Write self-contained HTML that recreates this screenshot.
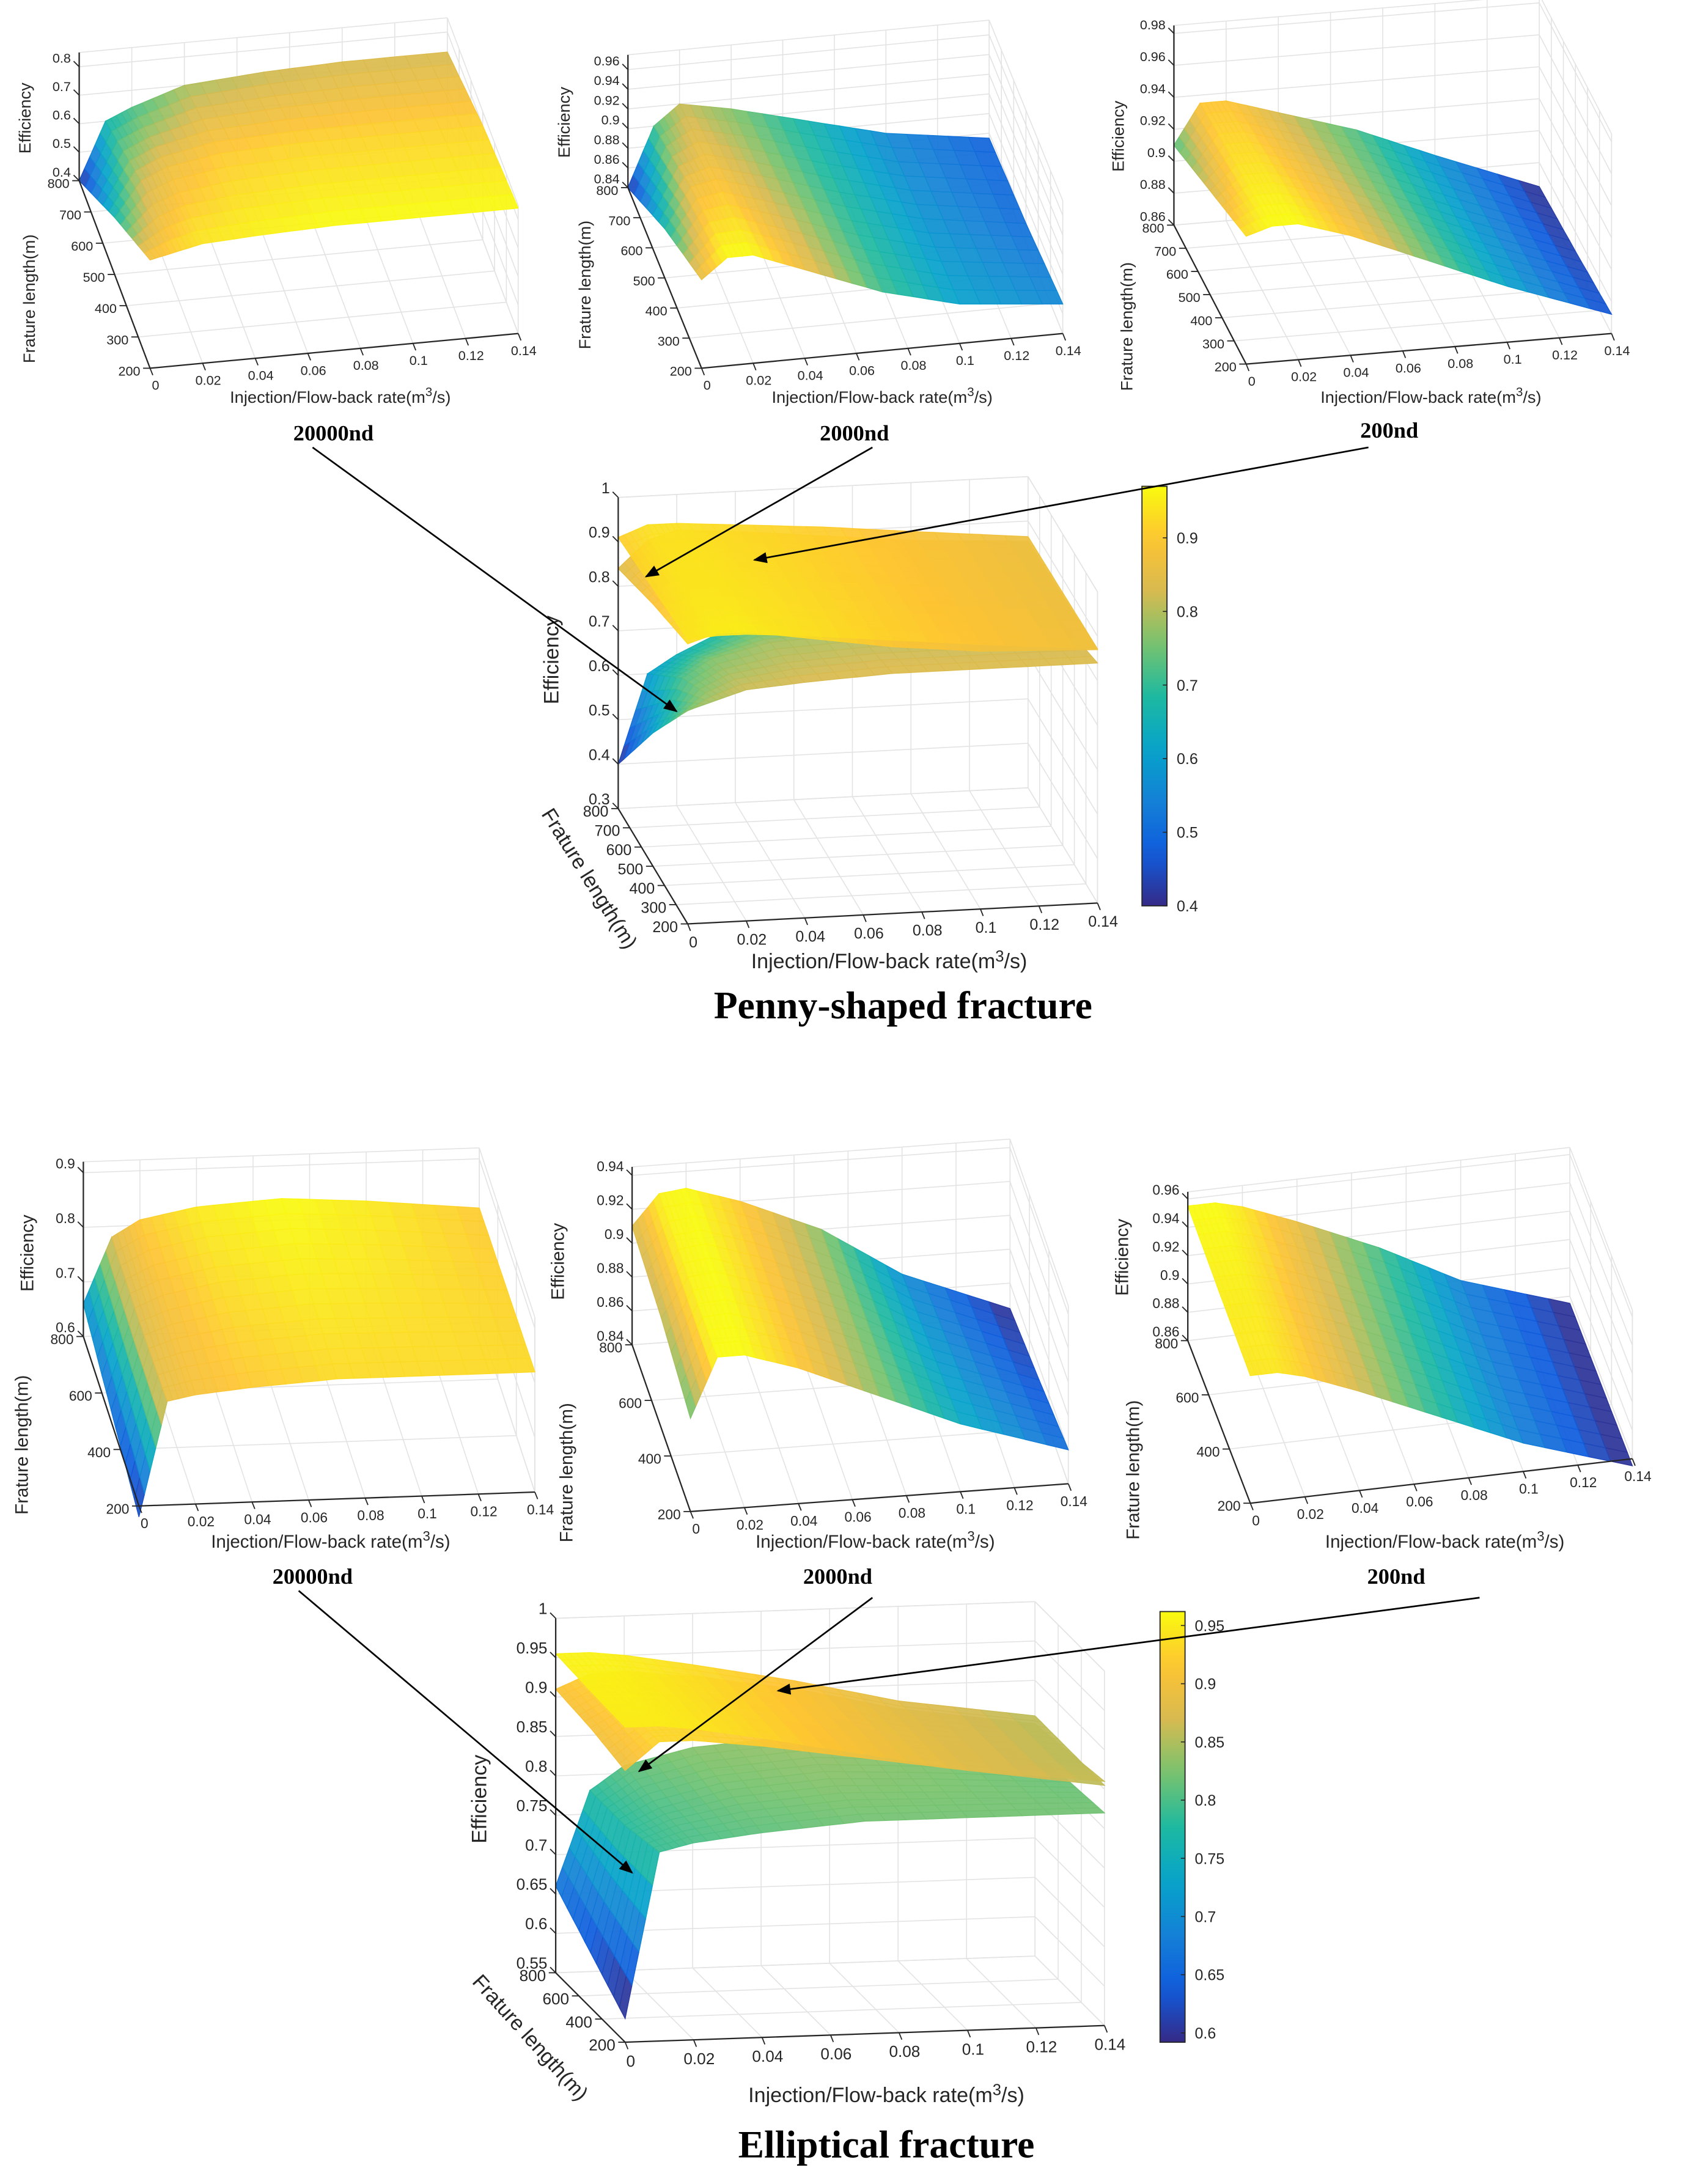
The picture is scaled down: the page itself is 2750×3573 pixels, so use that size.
<!DOCTYPE html>
<html><head><meta charset="utf-8"><style>
html,body{margin:0;padding:0;background:#fff;}
svg{display:block;}
text{font-family:"Liberation Sans",sans-serif;fill:#262626;}
.cap{font-family:"Liberation Serif",serif;font-weight:bold;fill:#000;}
</style></head><body>
<svg id="fig" xmlns="http://www.w3.org/2000/svg" width="2750" height="3573" viewBox="0 0 1210 1572">
<defs>
<marker id="ah" markerWidth="10" markerHeight="8" refX="9" refY="4" orient="auto" markerUnits="userSpaceOnUse"><path d="M0,0 L10,4 L0,8 z" fill="#000"/></marker>
</defs>
<g id="plots"></g>
<text class="cap" x="240" y="317" font-size="16" text-anchor="middle">20000nd</text>
<text class="cap" x="615" y="317" font-size="16" text-anchor="middle">2000nd</text>
<text class="cap" x="1000" y="315" font-size="16" text-anchor="middle">200nd</text>
<text class="cap" x="650" y="733" font-size="28" text-anchor="middle">Penny-shaped fracture</text>
<text class="cap" x="225" y="1140" font-size="16" text-anchor="middle">20000nd</text>
<text class="cap" x="603" y="1140" font-size="16" text-anchor="middle">2000nd</text>
<text class="cap" x="1005" y="1140" font-size="16" text-anchor="middle">200nd</text>
<text class="cap" x="638" y="1553" font-size="28" text-anchor="middle">Elliptical fracture</text>
<g stroke="#000" stroke-width="1.2" fill="none">
<line x1="225" y1="322" x2="487" y2="512" marker-end="url(#ah)"/>
<line x1="628" y1="322" x2="465" y2="415" marker-end="url(#ah)"/>
<line x1="985" y1="322" x2="543" y2="403" marker-end="url(#ah)"/>
<line x1="215" y1="1145" x2="455" y2="1348" marker-end="url(#ah)"/>
<line x1="628" y1="1150" x2="460" y2="1275" marker-end="url(#ah)"/>
<line x1="1065" y1="1150" x2="560" y2="1217" marker-end="url(#ah)"/>
</g>
</svg>
<script>
// ---- data ----
const xs=[0,0.01,0.02,0.04,0.07,0.1,0.14];
const Ls=[200,500,800];
const penny20000=[[0.78,0.80,0.82,0.83,0.84,0.84,0.84],[0.60,0.72,0.76,0.79,0.80,0.80,0.80],[0.40,0.60,0.64,0.70,0.72,0.73,0.73]];
const penny2000=[[0.93,0.95,0.95,0.93,0.90,0.88,0.87],[0.89,0.93,0.935,0.92,0.895,0.875,0.86],[0.84,0.90,0.92,0.91,0.89,0.87,0.855]];
const penny200=[[0.94,0.945,0.945,0.935,0.915,0.895,0.872],[0.925,0.94,0.94,0.93,0.912,0.892,0.868],[0.91,0.935,0.935,0.925,0.91,0.89,0.865]];
const ellip20000=[[0.58,0.79,0.80,0.81,0.82,0.82,0.82],[0.62,0.78,0.80,0.82,0.83,0.825,0.815],[0.66,0.78,0.81,0.83,0.84,0.83,0.81]];
const ellip2000=[[0.895,0.93,0.93,0.92,0.90,0.88,0.86],[0.905,0.928,0.93,0.92,0.90,0.875,0.852],[0.91,0.928,0.93,0.92,0.90,0.87,0.845]];
const ellip200=[[0.95,0.95,0.945,0.93,0.905,0.88,0.855],[0.952,0.952,0.947,0.932,0.907,0.88,0.855],[0.955,0.955,0.95,0.935,0.91,0.88,0.855]];
const xTicks=[0,0.02,0.04,0.06,0.08,0.1,0.12,0.14];
const xTickLabels=['0','0.02','0.04','0.06','0.08','0.1','0.12','0.14'];
const LTicks100=[200,300,400,500,600,700,800];
const LTicks200=[200,400,600,800];
const cbTicksPenny=[0.4,0.5,0.6,0.7,0.8,0.9];
const cbTicksEllip=[0.6,0.65,0.7,0.75,0.8,0.85,0.9,0.95];

const NS='http://www.w3.org/2000/svg';
const root=document.getElementById('plots');
function mk(tag,attrs,parent){const e=document.createElementNS(NS,tag);for(const k in attrs)e.setAttribute(k,attrs[k]);(parent||root).appendChild(e);return e;}
const stops=[[0,[53,42,135]],[0.125,[15,92,221]],[0.25,[20,129,214]],[0.375,[6,164,202]],[0.5,[30,185,160]],[0.625,[120,195,110]],[0.75,[215,186,80]],[0.875,[254,196,50]],[1,[249,251,14]]];
function parula(t){t=Math.max(0,Math.min(1,t));for(let i=1;i<stops.length;i++){if(t<=stops[i][0]){const a=stops[i-1],b=stops[i];const f=(t-a[0])/(b[0]-a[0]);const c=a[1].map((v,j)=>Math.round(v+(b[1][j]-v)*f));return 'rgb('+c.join(',')+')';}}return 'rgb(249,251,14)';}
function fmt(v){return String(+v.toFixed(2));}

function makeAxis(cfg){
  const g=mk('g',{});
  
  
  const P=(x,L,z)=>[cfg.O[0]+cfg.vx[0]*x/0.14+cfg.vL[0]*(L-200)/600, cfg.O[1]+cfg.vx[1]*x/0.14+cfg.vL[1]*(L-200)/600-cfg.kz*(z-cfg.z0)];
  const line=(a,b,col,w,nm)=>{const l=mk('line',{x1:a[0],y1:a[1],x2:b[0],y2:b[1],stroke:col,'stroke-width':w},g);return l;};
  const gc='#e3e3e3',z0=cfg.z0,z1=cfg.z1;
  xTicks.forEach(x=>{line(P(x,200,z0),P(x,800,z0),gc,0.7,'floor-grid-x');line(P(x,800,z0),P(x,800,z1),gc,0.7,'back-grid-x');});
  cfg.Lt.forEach(L=>{line(P(0,L,z0),P(0.14,L,z0),gc,0.7,'floor-grid-l');line(P(0.14,L,z0),P(0.14,L,z1),gc,0.7,'side-grid-l');});
  cfg.zt.forEach(z=>{line(P(0,800,z),P(0.14,800,z),gc,0.7,'back-grid-z');line(P(0.14,800,z),P(0.14,200,z),gc,0.7,'side-grid-z');});
  line(P(0,800,z1),P(0.14,800,z1),gc,0.7,'box-top');line(P(0.14,800,z1),P(0.14,200,z1),gc,0.7,'box-top');line(P(0.14,200,z0),P(0.14,200,z1),gc,0.7,'box-edge');
  const quads=[];
  const zr=z1-z0;
  cfg.series.forEach(s=>{
    const d=s.data;const lo=cfg.clim[0],hi=cfg.clim[1];
    for(let j=0;j<Ls.length-1;j++)for(let i=0;i<xs.length-1;i++){
      const NX=5,NL=6;
      for(let a=0;a<NX;a++)for(let b=0;b<NL;b++){
        const pts=[];let zs=0;
        [[a,b],[a+1,b],[a+1,b+1],[a,b+1]].forEach(([u,v])=>{
          const fu=u/NX,fv=v/NL;
          const z=(1-fu)*(1-fv)*d[j][i]+fu*(1-fv)*d[j][i+1]+(1-fu)*fv*d[j+1][i]+fu*fv*d[j+1][i+1];
          const x=xs[i]+(xs[i+1]-xs[i])*fu, L=Ls[j]+(Ls[j+1]-Ls[j])*fv;
          pts.push(P(x,L,z));zs+=z/4;
        });
        const Lm=Ls[j]+(Ls[j+1]-Ls[j])*(b+0.5)/NL;
        quads.push({pts,z:zs,col:parula((zs-lo)/(hi-lo)),key:(zs-z0)/zr+0.6*(1-(Lm-200)/600),nm:s.nm});
      }
    }
  });
  quads.sort((p,q)=>p.key-q.key);
  quads.forEach(q=>{const p=mk('polygon',{points:q.pts.map(v=>v[0].toFixed(1)+','+v[1].toFixed(1)).join(' '),fill:q.col,stroke:q.col,'stroke-width':0.6,'fill-opacity':0.93},g);});
  line(P(0,200,z0),P(0.14,200,z0),'#262626',1,'x-axis');
  line(P(0,200,z0),P(0,800,z0),'#262626',1,'l-axis');
  line(P(0,800,z0),P(0,800,z1),'#262626',1,'z-axis');
  const fs=cfg.fs;
  xTicks.forEach((x,k)=>{const p=P(x,200,z0);line(p,[p[0]+2,p[1]+5],'#262626',0.8,'x-tick');const t=mk('text',{x:p[0]+4,y:p[1]+fs+6,'font-size':fs,'text-anchor':'middle'},g);t.textContent=xTickLabels[k];});
  cfg.Lt.forEach(L=>{const p=P(0,L,z0);line(p,[p[0]-5,p[1]],'#262626',0.8,'l-tick');const t=mk('text',{x:p[0]-7,y:p[1]+fs*0.35+2,'font-size':fs,'text-anchor':'end'},g);t.textContent=String(L);});
  cfg.zt.forEach(z=>{const p=P(0,800,z);line(p,[p[0]-4,p[1]-4],'#262626',0.8,'z-tick');const t=mk('text',{x:p[0]-6,y:p[1]-3,'font-size':fs,'text-anchor':'end'},g);t.textContent=fmt(z);});
  const lf=cfg.lfs;
  const t1=mk('text',{x:cfg.ez[0],y:cfg.ez[1],'font-size':lf,'text-anchor':'middle',transform:'rotate(-90 '+cfg.ez[0]+' '+cfg.ez[1]+')'},g);t1.textContent='Efficiency';
  const t2=mk('text',{x:cfg.el[0],y:cfg.el[1],'font-size':lf,'text-anchor':'middle',transform:'rotate('+cfg.el[2]+' '+cfg.el[0]+' '+cfg.el[1]+')'},g);t2.textContent='Frature length(m)';
  const t3=mk('text',{x:cfg.ex[0],y:cfg.ex[1],'font-size':lf,'text-anchor':'middle'},g);t3.innerHTML='Injection/Flow-back rate(m<tspan dy="-5" font-size="'+(lf*0.75)+'">3</tspan><tspan dy="5">/s)</tspan>';
}
function rng(d){const f=d.flat();return [Math.min(...f),Math.max(...f)];}
function colorbar(x,y,w,h,clim,ticks,name){
  const id='g'+name;const lg=mk('linearGradient',{id:id,x1:0,y1:1,x2:0,y2:0},document.querySelector('defs'));
  for(let i=0;i<=20;i++){mk('stop',{offset:i/20,'stop-color':parula(i/20)},lg);}
  const r=mk('rect',{x:x,y:y,width:w,height:h,fill:'url(#'+id+')',stroke:'#262626','stroke-width':0.8});
  
  ticks.forEach(v=>{const yy=y+h-(v-clim[0])/(clim[1]-clim[0])*h;const t=mk('text',{x:x+w+7,y:yy+4,'font-size':11});t.textContent=fmt(v);mk('line',{x1:x+w-3,y1:yy,x2:x+w,y2:yy,stroke:'#262626','stroke-width':0.7});});
}
makeAxis({name:'plot-penny-20000nd',O:[108,265],vx:[265,-25],vL:[-51,-135],z0:0.4,z1:0.85,kz:205,zt:[0.4,0.5,0.6,0.7,0.8],Lt:LTicks100,clim:rng(penny20000),series:[{data:penny20000,nm:'surface-penny-20000nd'}],fs:9.5,lfs:12,ez:[22,85],el:[25,215,-90],ex:[245,290]});
makeAxis({name:'plot-penny-2000nd',O:[505,265],vx:[260,-25],vL:[-53,-130],z0:0.84,z1:0.975,kz:708,zt:[0.84,0.86,0.88,0.9,0.92,0.94,0.96],Lt:LTicks100,clim:rng(penny2000),series:[{data:penny2000,nm:'surface-penny-2000nd'}],fs:9.5,lfs:12,ez:[410,88],el:[425,205,-90],ex:[635,290]});
makeAxis({name:'plot-penny-200nd',O:[897,262],vx:[263,-22],vL:[-52,-100],z0:0.86,z1:0.985,kz:1150,zt:[0.86,0.88,0.9,0.92,0.94,0.96,0.98],Lt:LTicks100,clim:rng(penny200),series:[{data:penny200,nm:'surface-penny-200nd'}],fs:9.5,lfs:12,ez:[809,98],el:[815,235,-90],ex:[1030,290]});
makeAxis({name:'plot-penny-combined',O:[495,665],vx:[295,-15],vL:[-50,-83],z0:0.3,z1:1.0,kz:320,zt:[0.3,0.4,0.5,0.6,0.7,0.8,0.9,1],Lt:LTicks100,clim:[0.4,0.97],series:[{data:penny20000,nm:'surface-penny-20000nd'},{data:penny2000,nm:'surface-penny-2000nd'},{data:penny200,nm:'surface-penny-200nd'}],fs:11,lfs:15,ez:[402,475],el:[420,635,58],ex:[640,697]});
colorbar(822,350,18,302,[0.4,0.97],cbTicksPenny,'colorbar-penny');
makeAxis({name:'plot-ellip-20000nd',O:[100,1084],vx:[285,-10],vL:[-40,-122],z0:0.6,z1:0.92,kz:393,zt:[0.6,0.7,0.8,0.9],Lt:LTicks200,clim:rng(ellip20000),series:[{data:ellip20000,nm:'surface-ellip-20000nd'}],fs:10,lfs:13,ez:[24,902],el:[20,1040,-90],ex:[238,1114]});
makeAxis({name:'plot-ellip-2000nd',O:[497,1088],vx:[272,-20],vL:[-42,-120],z0:0.84,z1:0.945,kz:1220,zt:[0.84,0.86,0.88,0.9,0.92,0.94],Lt:LTicks200,clim:rng(ellip2000),series:[{data:ellip2000,nm:'surface-ellip-2000nd'}],fs:10,lfs:13,ez:[406,908],el:[412,1060,-90],ex:[630,1114]});
makeAxis({name:'plot-ellip-200nd',O:[900,1082],vx:[275,-32],vL:[-45,-117],z0:0.86,z1:0.965,kz:1020,zt:[0.86,0.88,0.9,0.92,0.94,0.96],Lt:LTicks200,clim:rng(ellip200),series:[{data:ellip200,nm:'surface-ellip-200nd'}],fs:10,lfs:13,ez:[812,905],el:[820,1058,-90],ex:[1040,1114]});
makeAxis({name:'plot-ellip-combined',O:[450,1470],vx:[345,-12],vL:[-50,-50],z0:0.55,z1:1.0,kz:567,zt:[0.55,0.6,0.65,0.7,0.75,0.8,0.85,0.9,0.95,1],Lt:LTicks200,clim:[0.592,0.962],series:[{data:ellip20000,nm:'surface-ellip-20000nd'},{data:ellip2000,nm:'surface-ellip-2000nd'},{data:ellip200,nm:'surface-ellip-200nd'}],fs:11.5,lfs:15,ez:[350,1295],el:[378,1470,48],ex:[638,1513]});
colorbar(835,1160,18,310,[0.592,0.962],cbTicksEllip,'colorbar-ellip');
</script>
</body></html>
